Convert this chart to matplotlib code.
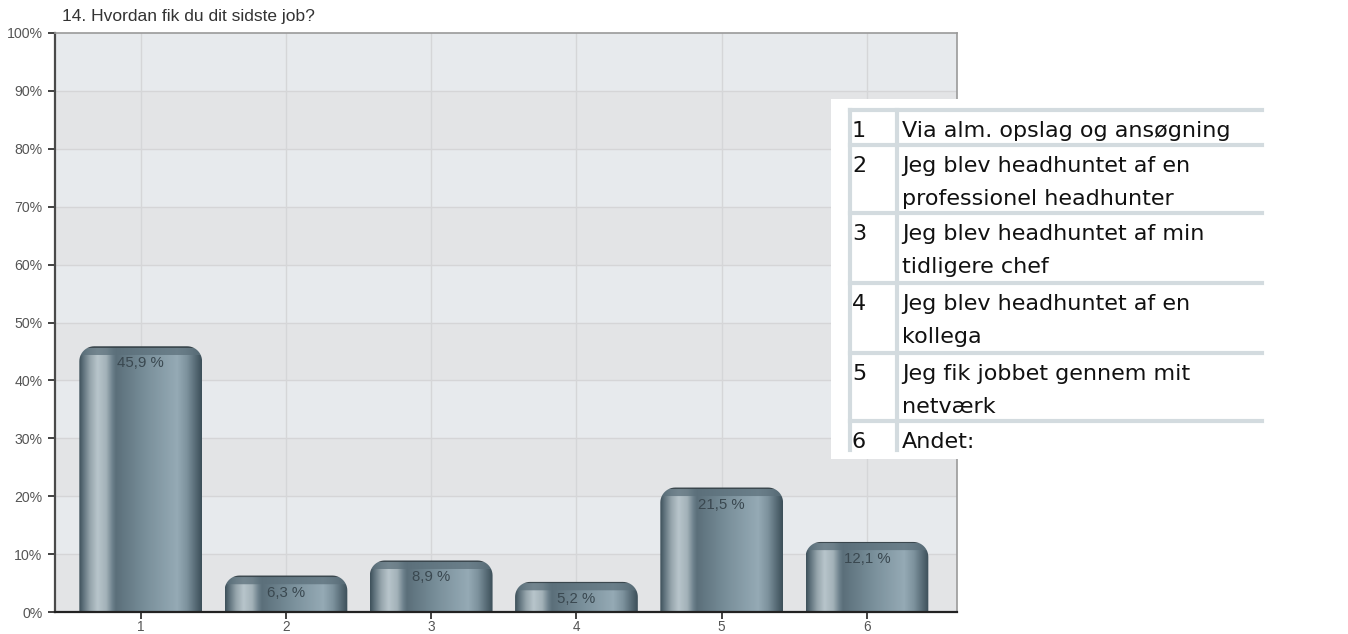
import numpy as np
import matplotlib
matplotlib.use("Agg")
import matplotlib.pyplot as plt
from matplotlib.path import Path
from matplotlib.patches import PathPatch, Rectangle
from matplotlib.lines import Line2D
from matplotlib.colors import LinearSegmentedColormap

# survey answers (percent of respondents)
title = "14. Hvordan fik du dit sidste job?"
categories = [1, 2, 3, 4, 5, 6]
shares = [45.9, 6.3, 8.9, 5.2, 21.5, 12.1]
answer_texts = [
    "Via alm. opslag og ansøgning",
    "Jeg blev headhuntet af en\nprofessionel headhunter",
    "Jeg blev headhuntet af min\ntidligere chef",
    "Jeg blev headhuntet af en\nkollega",
    "Jeg fik jobbet gennem mit\nnetværk",
    "Andet:",
]
y_ticks = list(range(0, 101, 10))

W, H = 1348, 634
DPI = 100
fig = plt.figure(figsize=(W / DPI, H / DPI), dpi=DPI, facecolor="white")


def fx(x):
    return x / W


def fy(y):
    # y in pixels from the top edge
    return 1 - y / H


# plot area in pixels
AX_L, AX_R, AX_T, AX_B = 55, 957, 33, 612
XMIN, XMAX = 0.41, 6.62
ax = fig.add_axes([fx(AX_L), fy(AX_B), fx(AX_R - AX_L), (AX_B - AX_T) / H])
ax.set_xlim(XMIN, XMAX)
ax.set_ylim(0, 100)

# alternating horizontal bands
for i in range(10):
    c = "#e3e4e6" if i % 2 == 0 else "#e7eaed"
    ax.axhspan(i * 10, i * 10 + 10, color=c, zorder=0, lw=0)
for v in y_ticks[1:-1]:
    ax.axhline(v, color="#d5d5d7", lw=1, zorder=0.5)
for c in categories:
    ax.axvline(c, color="#d5d6d8", lw=1, zorder=0.5)

# cylinder-like shading across each bar
stops = [
    (0.00, "#3e515b"), (0.03, "#5b6e78"), (0.09, "#96a5ac"), (0.15, "#b8c5cb"),
    (0.22, "#a3b2b9"), (0.275, "#6a7e89"), (0.30, "#5b6f7a"), (0.55, "#7a909b"),
    (0.80, "#95aab5"), (0.88, "#7d929d"), (0.95, "#566a75"), (1.00, "#3c4f59"),
]
bar_cmap = LinearSegmentedColormap.from_list("bar", stops)
row_rgb = bar_cmap(np.linspace(0, 1, 256))[:, :3]
cap_rgb = np.array([0x5c, 0x70, 0x7b]) / 255.0

bar_w = 0.845
px_x = (AX_R - AX_L) / (XMAX - XMIN)
px_y = (AX_B - AX_T) / 100.0
r_px = 15
rx, ry = r_px / px_x, r_px / px_y

t = np.linspace(0, np.pi / 2, 14)
for c, v in zip(categories, shares):
    x0, x1 = c - bar_w / 2, c + bar_w / 2
    r_y = min(ry, v * 0.9)
    left_arc = [(x0 + rx - rx * np.cos(a), v - r_y + r_y * np.sin(a)) for a in t]
    right_arc = [(x1 - rx + rx * np.sin(a), v - r_y + r_y * np.cos(a)) for a in t]
    verts = [(x0, 0)] + left_arc + right_arc + [(x1, 0), (x0, 0)]
    codes = [Path.MOVETO] + [Path.LINETO] * (len(verts) - 2) + [Path.CLOSEPOLY]
    shape = PathPatch(Path(verts, codes), facecolor="none", edgecolor="none", zorder=2)
    ax.add_patch(shape)

    # one image row per screen pixel, darker lip along the top
    n_rows = max(int(round(v * px_y)), 2)
    img = np.tile(row_rgb, (n_rows, 1, 1))
    for k in range(min(9, n_rows)):
        w = 0.75 if k >= 2 else 0.9
        shade = 0.62 if k < 2 else 1.0
        img[k] = (img[k] * (1 - w) + cap_rgb * w) * shade
    im = ax.imshow(img, extent=(x0, x1, 0, v), aspect="auto", origin="upper",
                   interpolation="bilinear", zorder=2)
    im.set_clip_path(shape)

    ax.annotate(f"{v:.1f} %".replace(".", ","), (c, v), xytext=(0, -17),
                textcoords="offset pixels", ha="center", va="center",
                fontsize=10.8, color="#3a4850", family="Liberation Sans", zorder=3)

ax.set_xticks(categories)
ax.set_xticklabels([str(c) for c in categories])
ax.set_yticks(y_ticks)
ax.set_yticklabels([f"{v}%" for v in y_ticks])
ax.tick_params(axis="both", direction="out", length=5, width=1.3, color="#333333",
               labelsize=10.2, labelcolor="#555555", pad=4)
ax.tick_params(axis="x", labelsize=9.8, pad=1)
for lab in ax.get_xticklabels() + ax.get_yticklabels():
    lab.set_family("Liberation Sans")
ax.spines["left"].set_color("#4a4a4a")
ax.spines["left"].set_linewidth(1.6)
ax.spines["bottom"].set_color("#222222")
ax.spines["bottom"].set_linewidth(1.6)
for s in ("top", "right"):
    ax.spines[s].set_color("#9a9a9a")
    ax.spines[s].set_linewidth(1.2)

fig.text(fx(62), fy(17), title, ha="left", va="center", fontsize=12.5,
         color="#333333", family="Liberation Sans")

# answer list on a white panel to the right
fig.patches.append(Rectangle((fx(831), fy(459)), fx(W - 831), (459 - 99) / H,
                             transform=fig.transFigure, facecolor="white",
                             edgecolor="none", zorder=5))
row_lines = [110, 145, 213, 283, 353, 421]
tbl_l, tbl_sep, tbl_r, tbl_b = 850, 897, 1262, 450
line_kw = dict(color="#d3dbdf", lw=3, transform=fig.transFigure, zorder=6)
for yl in row_lines:
    fig.lines.append(Line2D([fx(tbl_l), fx(tbl_r)], [fy(yl), fy(yl)], **line_kw))
for xl in (tbl_l, tbl_sep):
    fig.lines.append(Line2D([fx(xl), fx(xl)], [fy(row_lines[0]), fy(tbl_b)], **line_kw))

txt_kw = dict(ha="left", va="baseline", fontsize=16, color="#111111",
              family="DejaVu Sans", zorder=7)
for i, (c, txt) in enumerate(zip(categories, answer_texts)):
    base = row_lines[i] + 27
    fig.text(fx(852), fy(base), str(c), **txt_kw)
    for k, line in enumerate(txt.split("\n")):
        fig.text(fx(902), fy(base + 33 * k), line, **txt_kw)

fig.savefig("out.png", dpi=DPI, facecolor="white")
